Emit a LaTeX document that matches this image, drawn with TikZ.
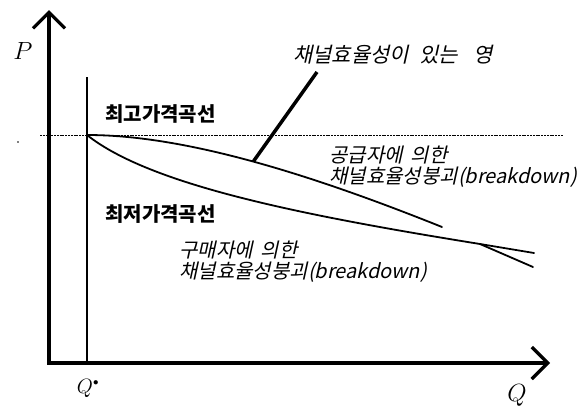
\documentclass[tikz,border=0pt]{standalone}
\usepackage{fontspec}
\newfontfamily\kr{Noto Sans CJK KR}
\newfontfamily\krs{Noto Sans CJK KR}[FakeSlant=0.22]
\usetikzlibrary{arrows.meta}
\begin{document}
\begin{tikzpicture}[x=1pt,y=-1pt,
  axis/.style={line width=3.2pt,-{Straight Barb[length=16pt,width=32pt,line width=3.2pt]}},
  curve/.style={line width=1.8pt,line cap=round},
  boldlab/.style={font=\kr\bfseries\fontsize{20}{22}\selectfont,inner sep=0pt,anchor=west},
  slantlab/.style={font=\krs\fontsize{20}{20.5}\selectfont,inner sep=0pt,align=left},
  mathlab/.style={inner sep=0pt}]
\useasboundingbox (0,0) rectangle (583,407);
% coordinates
\coordinate (O) at (49,363);
\coordinate (ytip) at (49,10);
\coordinate (xstart) at (47,363);
\coordinate (xtip) at (550,363);
\coordinate (qtop) at (87,77);
\coordinate (qbot) at (87,363);
\coordinate (S) at (87,135);
\coordinate (dl) at (40,135);
\coordinate (dr) at (563,135);
\coordinate (uend) at (442,227);
\coordinate (cross) at (480,244);
\coordinate (lend) at (534,253);
\coordinate (xend) at (533,267);
\coordinate (ltop) at (317,72);
% dotted reference line
\draw[line width=1pt,dash pattern=on 2pt off 0.8pt] (dl) -- (dr);
% axes
\draw[axis] (O) -- (ytip);
\draw[axis] (xstart) -- (xtip);
% Q* line
\draw[line width=1.3pt] (qtop) -- (qbot);
% upper curve
\draw[curve] (S) .. controls (180,135) and (300,170) .. coordinate[pos=0.52] (lfoot) (uend);
% lower curve
\draw[curve] (S) .. controls (150,185) and (300,215) .. (cross) -- (lend);
\draw[curve] (cross) -- (xend);
% leader
\draw[line width=3.5pt] (lfoot) -- (ltop);
% speck
\fill (18,142) circle (0.8pt);
% labels
\node[mathlab] (P) at (23,51) {\fontsize{25}{25}\selectfont$P$};
\node[mathlab] (Q) at (517,395) {\fontsize{23}{23}\selectfont$Q$};
\node[mathlab] (Qs) at (88,388) {\fontsize{21}{21}\selectfont$Q^{\scriptscriptstyle\bullet}$};
\node[boldlab] (maxc) at (105,114) {최고가격곡선};
\node[boldlab] (minc) at (105,214) {최저가격곡선};
\node[slantlab,anchor=west,font=\krs\fontsize{21}{22}\selectfont] (eff) at (293,55) {채널효율성이\hspace{10pt}있는\hspace{16pt}영};
\node[slantlab,anchor=north west] (sup) at (329,146) {공급자에\hspace{8pt}의한\\채널효율성붕괴(breakdown)};
\node[slantlab,anchor=north west] (buy) at (179,241) {구매자에\hspace{8pt}의한\\채널효율성붕괴(breakdown)};
\end{tikzpicture}
\end{document}
